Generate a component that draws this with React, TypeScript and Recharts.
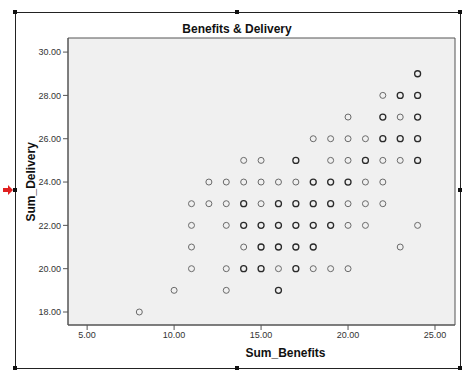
import { ScatterChart, Scatter, XAxis, YAxis, CartesianGrid, ReferenceArea } from "recharts";

// Sum_Benefits / Sum_Delivery pairs
const lightPoints = [
  { x: 22, y: 28 },
  { x: 20, y: 27 }, { x: 23, y: 27 },
  { x: 18, y: 26 }, { x: 19, y: 26 }, { x: 20, y: 26 }, { x: 21, y: 26 },
  { x: 14, y: 25 }, { x: 15, y: 25 }, { x: 19, y: 25 }, { x: 20, y: 25 }, { x: 22, y: 25 }, { x: 23, y: 25 },
  { x: 12, y: 24 }, { x: 13, y: 24 }, { x: 14, y: 24 }, { x: 15, y: 24 }, { x: 16, y: 24 }, { x: 17, y: 24 }, { x: 21, y: 24 }, { x: 22, y: 24 },
  { x: 11, y: 23 }, { x: 12, y: 23 }, { x: 13, y: 23 }, { x: 15, y: 23 }, { x: 20, y: 23 }, { x: 21, y: 23 }, { x: 22, y: 23 },
  { x: 11, y: 22 }, { x: 13, y: 22 }, { x: 20, y: 22 }, { x: 21, y: 22 }, { x: 24, y: 22 },
  { x: 11, y: 21 }, { x: 14, y: 21 }, { x: 23, y: 21 },
  { x: 11, y: 20 }, { x: 13, y: 20 }, { x: 16, y: 20 }, { x: 18, y: 20 }, { x: 19, y: 20 }, { x: 20, y: 20 },
  { x: 10, y: 19 }, { x: 13, y: 19 },
  { x: 8, y: 18 },
];

// points drawn darker (several cases on the same spot)
const heavyPoints = [
  { x: 24, y: 29 },
  { x: 23, y: 28 }, { x: 24, y: 28 },
  { x: 22, y: 27 }, { x: 24, y: 27 },
  { x: 22, y: 26 }, { x: 23, y: 26 }, { x: 24, y: 26 },
  { x: 17, y: 25 }, { x: 21, y: 25 }, { x: 24, y: 25 },
  { x: 18, y: 24 }, { x: 19, y: 24 }, { x: 20, y: 24 },
  { x: 14, y: 23 }, { x: 16, y: 23 }, { x: 17, y: 23 }, { x: 18, y: 23 }, { x: 19, y: 23 },
  { x: 14, y: 22 }, { x: 15, y: 22 }, { x: 16, y: 22 }, { x: 17, y: 22 }, { x: 18, y: 22 }, { x: 19, y: 22 },
  { x: 15, y: 21 }, { x: 16, y: 21 }, { x: 17, y: 21 }, { x: 18, y: 21 },
  { x: 14, y: 20 }, { x: 15, y: 20 }, { x: 17, y: 20 },
  { x: 16, y: 19 },
];

const xTicks = [5, 10, 15, 20, 25];
const yTicks = [18, 20, 22, 24, 26, 28, 30];

const font = "'Liberation Sans', Arial, sans-serif";

const ring = (color: string, w: number) => (props: any) => (
  <circle cx={props.cx} cy={props.cy} r={3} fill="none" stroke={color} strokeWidth={w} />
);

const handles = [
  [15, 12], [237, 12], [460, 12],
  [15, 190], [460, 190],
  [15, 368], [237, 368], [460, 368],
];

export default function App() {
  return (
    <div style={{ position: "absolute", left: 0, top: 0, width: 474, height: 388, background: "#fff", fontFamily: font }}>
      <ScatterChart width={474} height={388} margin={{ top: 38, right: 19, left: 0, bottom: 0 }}>
        <CartesianGrid horizontal={false} vertical={false} fill="#f0f0f0" />
        <XAxis
          type="number"
          dataKey="x"
          domain={[3.9, 26.15]}
          ticks={xTicks}
          allowDataOverflow
          height={63}
          tickFormatter={(v: number) => v.toFixed(2)}
          tick={{ fontSize: 9, fill: "#333", fontFamily: font }}
          axisLine={{ stroke: "#555" }}
          tickLine={{ stroke: "#555" }}
          tickSize={5}
          label={{ value: "Sum_Benefits", position: "insideBottom", offset: 31, dx: 24, fontSize: 12, fontWeight: "bold", fill: "#111", fontFamily: font }}
        />
        <YAxis
          type="number"
          dataKey="y"
          domain={[17.4, 30.65]}
          ticks={yTicks}
          allowDataOverflow
          width={68}
          tickFormatter={(v: number) => v.toFixed(2)}
          tick={{ fontSize: 9, fill: "#333", fontFamily: font }}
          axisLine={{ stroke: "#555" }}
          tickLine={{ stroke: "#555" }}
          tickSize={5}
          label={{ value: "Sum_Delivery", angle: -90, position: "insideLeft", offset: 31, dy: 40, fontSize: 12, fontWeight: "bold", fill: "#111", fontFamily: font }}
        />
        <ReferenceArea x1={3.9} x2={26.15} y1={17.4} y2={30.65} fill="none" stroke="#555" strokeWidth={1} ifOverflow="visible" />
        <Scatter data={lightPoints} shape={ring("#6a6a6a", 1)} isAnimationActive={false} />
        <Scatter data={heavyPoints} shape={ring("#2a2a2a", 1.3)} isAnimationActive={false} />
      </ScatterChart>
      <svg width={474} height={388} style={{ position: "absolute", left: 0, top: 0, pointerEvents: "none" }}>
        <rect x={15.5} y={12.5} width={445} height={356} fill="none" stroke="#222" strokeWidth={1} />
        {handles.map(([x, y], i) => (
          <rect key={i} x={x - 2} y={y - 2} width={4} height={4} fill="#111" />
        ))}
        <polygon points="3,188 8,188 8,185 13,190 8,195 8,192 3,192" fill="#e02020" />
        <text x={237} y={33} textAnchor="middle" fontSize={12} fontWeight="bold" fill="#111" fontFamily={font}>
          Benefits &amp; Delivery
        </text>
      </svg>
    </div>
  );
}
